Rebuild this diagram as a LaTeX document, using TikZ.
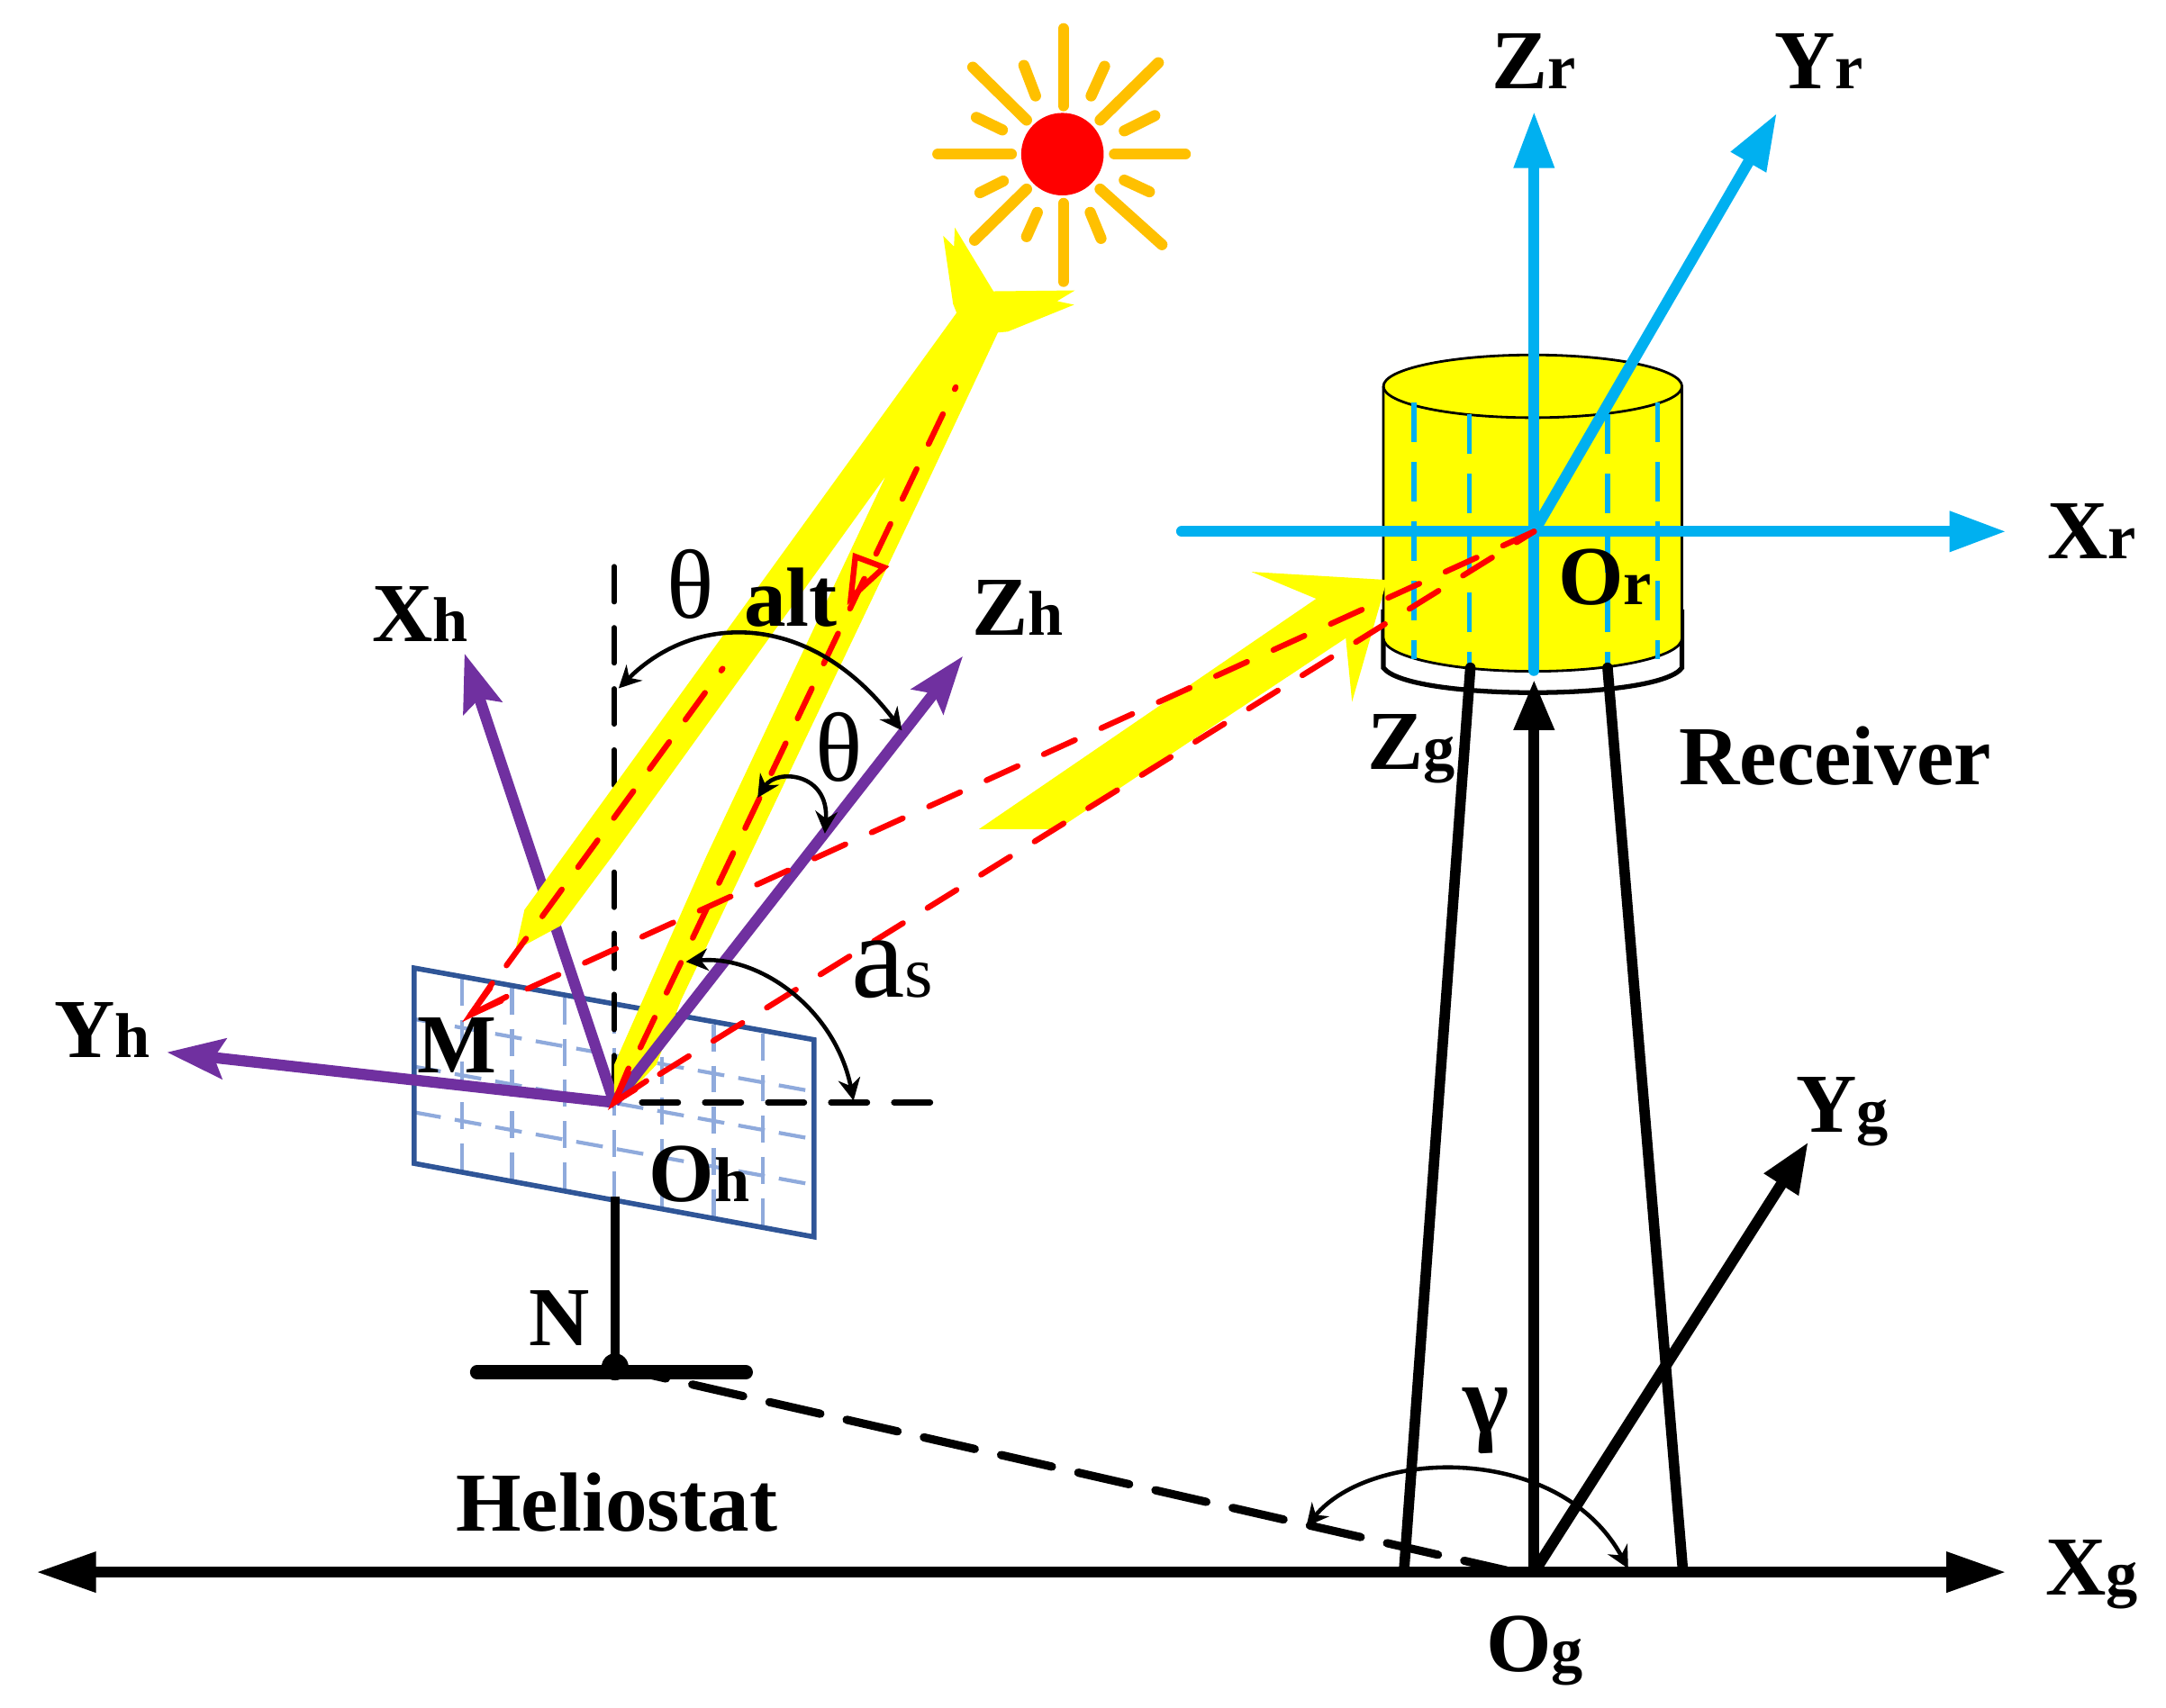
\documentclass[tikz,border=0pt]{standalone}
\usepackage{fontspec}
\setmainfont{Liberation Serif}
\usetikzlibrary{arrows.meta}
\definecolor{sunorange}{HTML}{FFC000}
\definecolor{panelblue}{HTML}{2F5597}
\definecolor{gridblue}{HTML}{8FAADC}
\definecolor{axisblue}{HTML}{00B0F0}
\definecolor{axispurple}{HTML}{7030A0}
\definecolor{beamyellow}{HTML}{FFFF00}
\definecolor{rayred}{HTML}{FF0000}
\newcommand{\sub}[1]{{\fontsize{20}{20}\selectfont #1}}
\tikzset{
	axislabel/.style={font=\fontsize{26.5}{28}\selectfont\bfseries, inner sep=0pt},
	anglelabel/.style={font=\fontsize{31}{33}\selectfont, inner sep=0pt},
	sunray/.style={sunorange, line width=3.5pt, line cap=round},
	panelgrid/.style={gridblue, line width=1.2pt, dash pattern=on 8.5pt off 4.5pt},
	blueaxis/.style={axisblue, line width=3.5pt, line cap=round, -{Stealth[length=18pt,width=12pt,inset=0pt]}},
	blackaxis/.style={black, line width=3.5pt, -{Stealth[length=16pt,width=12pt,inset=0pt]}},
	purpleaxis/.style={axispurple, line width=3.5pt, -{Stealth[length=18pt,width=12.5pt,inset=3pt]}},
	towerline/.style={black, line width=3.3pt, line cap=round},
	blackdash/.style={black, line width=1.6pt, line cap=round, dash pattern=on 11.2pt off 8.1pt},
	redray/.style={rayred, line width=1.8pt, line cap=round, dash pattern=on 10.5pt off 8.7pt},
	redrayb/.style={rayred, line width=1.8pt, line cap=round, dash pattern=on 10.8pt off 9.1pt},
	redtip/.style={rayred, line width=1.8pt, line cap=round},
	anglearc/.style={black, line width=1.3pt, {Stealth[length=7pt,width=7pt]}-{Stealth[length=7pt,width=7pt]}},
	beam/.style={fill=beamyellow, draw=none},
}
\begin{document}
\begin{tikzpicture}[x=0.009955cm,y=-0.009955cm]
	\useasboundingbox (0,0) rectangle (2415.9,1905.6);

	% points
	\coordinate (Oh) at (685,1230);
	\coordinate (Or) at (1711,593);
	\coordinate (Og) at (1711,1754);
	\coordinate (M) at (525,1132);
	\coordinate (N) at (686,1525);

	% panel
	\coordinate (pa) at (462,1080);
	\coordinate (pb) at (908,1160);
	\coordinate (pc) at (908,1380);
	\coordinate (pd) at (462,1298);
	\foreach \gx/\gya/\gyb in {515/1092/1310,571/1102/1320,630/1113/1331,738/1133/1351,796/1143/1361,851/1153/1371,685/1123/1340}
		\draw[panelgrid] (\gx,\gya) -- (\gx,\gyb);
	\foreach \gya/\gyb in {1137/1218,1190/1271,1241/1322}
		\draw[panelgrid] (462,\gya) -- (908,\gyb);
	\draw[panelblue, line width=1.6pt] (pa) -- (pb) -- (pc) -- (pd) -- cycle;

	% stand
	\coordinate (postTop) at (686,1335);
	\coordinate (baseL) at (532,1531);
	\coordinate (baseR) at (832,1531);
	\draw[black, line width=2.8pt] (postTop) -- (N);
	\draw[black, line width=4.4pt, line cap=round] (baseL) -- (baseR);
	\fill[black] (N) circle (15);

	% black dashed guides
	\coordinate (zenith) at (685,632);
	\coordinate (east) at (716,1230);
	\coordinate (eastEnd) at (1040,1230);
	\coordinate (foot) at (1680,1752);
	\draw[blackdash] (zenith) -- (Oh);
	\draw[blackdash, line width=1.9pt, dash pattern=on 11.4pt off 8.5pt] (east) -- (eastEnd);
	\draw[black, line width=2.6pt, line cap=round, dash pattern=on 16.5pt off 8.5pt] (N) -- (foot);

	% cylinder
	\coordinate (cylL) at (1543,431);
	\coordinate (cylR) at (1876,431);
	\draw[black, line width=1.5pt, fill=white] (1543,680) -- (1543,745)
		.. controls (1570,782) and (1850,782) .. (1876,745) -- (1876,680);
	\fill[beamyellow, draw=black, line width=.8pt] (cylL) -- (1543,712)
		arc[start angle=180, end angle=0, x radius=166.5, y radius=37]
		-- (cylR) arc[start angle=360, end angle=180, x radius=166.5, y radius=35];
	\draw[black, line width=.8pt] (cylL) arc[start angle=180, end angle=0, x radius=166.5, y radius=35];
	\foreach \cx/\cya/\cyb in {1577/449/735,1639/462/742,1793/462/742,1849/449/735}
		\draw[axisblue, line width=1.5pt, dash pattern=on 12.5pt off 6.3pt] (\cx,\cya) -- (\cx,\cyb);

	% receiver axes
	\coordinate (XrL) at (1318,593);
	\coordinate (XrR) at (2238,593);
	\coordinate (ZrB) at (1711,748);
	\coordinate (ZrT) at (1711,124);
	\coordinate (YrT) at (1982,126);
	\draw[blueaxis] (XrL) -- (XrR);
	\draw[blueaxis] (ZrB) -- (ZrT);
	\draw[blueaxis] (Or) -- (YrT);

	% tower and ground axes
	\coordinate (towLa) at (1640,745);
	\coordinate (towLb) at (1566,1752);
	\coordinate (towRa) at (1793,745);
	\coordinate (towRb) at (1877,1752);
	\coordinate (ZgT) at (1711,758);
	\coordinate (YgT) at (2017,1274);
	\coordinate (XgL) at (40,1754);
	\coordinate (XgR) at (2238,1754);
	\draw[towerline] (towLa) -- (towLb);
	\draw[towerline] (towRa) -- (towRb);
	\draw[blackaxis] (Og) -- (ZgT);
	\draw[blackaxis] (Og) -- (YgT);
	\draw[black, line width=3.5pt, {Stealth[length=19pt,width=12pt,inset=0pt]}-{Stealth[length=19pt,width=12pt,inset=0pt]}] (XgL) -- (XgR);

	% heliostat axis under the beam
	\coordinate (XhT) at (518,729);
	\coordinate (YhT) at (186,1174);
	\coordinate (ZhT) at (1074,732);
	\draw[purpleaxis] (Oh) -- (XhT);

	% yellow beams
	\fill[beam] (1065,254) -- (1108,325) -- (1199,324) -- (1179,336) -- (1198,340) -- (1124,370)
		-- (1113,371) -- (1028,552) -- (760,1115) -- (732,1188) -- (692,1230) -- (685,1230)
		-- (685,1188) -- (788,955) -- (988,531) -- (683,955) -- (625,1033) -- (575,1060)
		-- (585,1015) -- (1067,349) -- (1063,339) -- (1052,263) -- (1064,275) -- cycle;
	\fill[beam] (1092,925) -- (1468,668) -- (1396,638) -- (1547,647) -- (1508,783) -- (1501,712) -- (1180,925) -- cycle;

	% heliostat axes over the beam
	\node[axislabel] (labM) at (510,1166) {M};
	\draw[purpleaxis] (Oh) -- (YhT);
	\draw[purpleaxis] (Oh) -- (ZhT);

	% red rays
	\coordinate (sunA) at (806,746);
	\coordinate (sunB) at (1066,432);
	\draw[redray] (M) -- (sunA);
	\draw[redray] (Oh) -- (sunB);
	\draw[redrayb] (Or) -- (M);
	\draw[redrayb, dash phase=4.3pt] (Or) -- (Oh);
	\draw[redtip] (549,1097) -- (M) -- (565,1112);
	\draw[redtip] (701,1192) -- (Oh) -- (721,1206);
	\draw[redtip] (954,621) -- (986,633) -- (949,667) -- cycle;

	% sun
	\foreach \xa/\ya/\xb/\yb in {1186/32/1186/118,1186/227/1186/314,1046/172/1128/172,1243/172/1322/172,
		1085/75/1145/134,1292/70/1227/134,1145/211/1087/268,1227/211/1296/273,
		1142/73/1155/107,1232/74/1217/107,1089/131/1118/145,1288/129/1254/146,
		1119/202/1093/215,1254/201/1282/214,1157/237/1145/264,1216/237/1228/266}
		\draw[sunray] (\xa,\ya) -- (\xb,\yb);
	\fill[rayred] (1185,172) circle (46);

	% angle arcs
	\draw[anglearc] (690,768) .. controls (776,682) and (905,682) .. (1006,815);
	\draw[anglearc] (845,890) .. controls (866,857) and (925,862) .. (920,930);
	\draw[anglearc] (765,1073) .. controls (848,1065) and (932,1127) .. (952,1228);
	\draw[anglearc] (1457,1703) .. controls (1530,1615) and (1740,1610) .. (1816,1750);

	% labels
	\node[axislabel] (labZr) at (1711,68) {Z\sub{r}};
	\node[axislabel] (labYr) at (2029,68) {Y\sub{r}};
	\node[axislabel] (labXr) at (2333,593) {X\sub{r}};
	\node[axislabel] (labOr) at (1790,644) {O\sub{r}};
	\node[axislabel] (labZh) at (1135,678) {Z\sub{h}};
	\node[axislabel] (labXh) at (469,685) {X\sub{h}};
	\node[axislabel] (labYh) at (114,1149) {Y\sub{h}};
	\node[axislabel] (labOh) at (780,1310) {O\sub{h}};
	\node[axislabel] (labN) at (624,1471) {N};
	\node[axislabel] (labZg) at (1574,836) {Z\sub{g}};
	\node[axislabel] (labRec) at (2047,843) {Receiver};
	\node[axislabel] (labYg) at (2055,1240) {Y\sub{g}};
	\node[axislabel] (labXg) at (2333,1757) {X\sub{g}};
	\node[axislabel] (labOg) at (1712,1842) {O\sub{g}};
	\node[axislabel] (labHel) at (688,1676) {Heliostat};
	\node[axislabel] (labAlt) at (882,667) {alt};
	\node[anglelabel] (labTa) at (770,652) {θ};
	\node[anglelabel] (labTb) at (936,834) {θ};
	\node[anglelabel, font=\fontsize{31}{33}\selectfont\bfseries] (labGam) at (1657,1585) {γ};
	\node[font=\fontsize{38}{40}\selectfont, inner sep=0pt] (labAs) at (995,1082) {a{\fontsize{23}{23}\selectfont s}};
\end{tikzpicture}
\end{document}
